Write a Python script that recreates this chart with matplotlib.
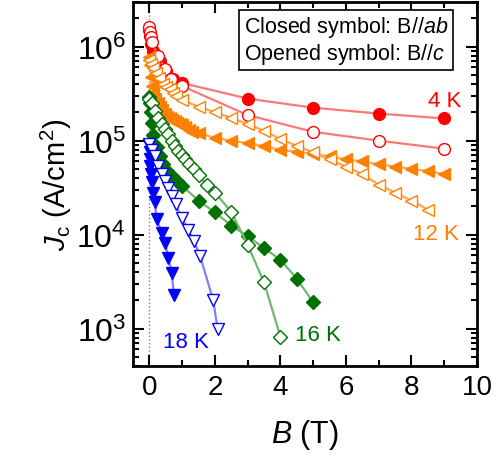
import matplotlib
matplotlib.use("Agg")
import matplotlib.pyplot as plt

plt.rcParams['font.family'] = ['Liberation Sans', 'DejaVu Sans']
plt.rcParams['mathtext.fontset'] = 'custom'
plt.rcParams['mathtext.rm'] = 'Liberation Sans'
plt.rcParams['mathtext.it'] = 'Liberation Sans:italic'

# 4 K
b4_ab = [0.0, 0.03, 0.06, 0.1, 0.2, 0.32, 0.52, 0.72, 1.0, 3.0, 5.0, 7.0, 9.0]
j4_ab = [1.5e6, 1.3e6, 1.07e6, 9.0e5, 7.8e5, 7.1e5, 5.5e5, 4.5e5, 4.1e5, 2.8e5, 2.24e5, 1.94e5, 1.72e5]
b4_c = [0.0, 0.02, 0.04, 0.07, 0.27, 0.47, 0.67, 1.0, 3.0, 5.0, 7.0, 9.0]
j4_c = [1.6e6, 1.42e6, 1.26e6, 1.11e6, 8.0e5, 5.8e5, 4.5e5, 3.8e5, 1.87e5, 1.24e5, 1.0e5, 8.2e4]

# 12 K
b12_ab = [0, 0.02, 0.05, 0.08, 0.12, 0.17, 0.25, 0.32, 0.4, 0.47, 0.55, 0.62, 0.7, 0.77,
          0.85, 0.93, 1.0, 1.08, 1.2, 1.3, 1.5, 2.0, 2.5, 3.0, 3.5, 4.0, 4.5, 5.0, 5.5,
          6.0, 6.5, 7.0, 7.5, 8.0, 8.5, 9.0]
j12_ab = [7.7e5, 6.3e5, 4.8e5, 3.8e5, 3.2e5, 2.8e5, 2.5e5, 2.3e5, 2.1e5, 1.9e5, 1.8e5,
          1.72e5, 1.65e5, 1.6e5, 1.55e5, 1.5e5, 1.45e5, 1.38e5, 1.3e5, 1.25e5, 1.2e5,
          1.07e5, 1.0e5, 9.4e4, 8.7e4, 8.0e4, 7.6e4, 7.2e4, 6.8e4, 6.3e4, 6.0e4, 5.6e4,
          5.3e4, 5.0e4, 4.75e4, 4.4e4]
b12_c = [0, 0.05, 0.1, 0.2, 0.3, 0.42, 0.52, 0.62, 0.72, 0.82, 1.0, 1.5, 2.0, 2.5, 3.0,
         3.5, 4.0, 4.5, 5.0, 5.5, 6.0, 6.5, 7.0, 7.5, 8.0, 8.5]
j12_c = [7.2e5, 6.5e5, 5.9e5, 5.3e5, 4.6e5, 4.0e5, 3.75e5, 3.5e5, 3.25e5, 3.0e5, 2.7e5,
         2.3e5, 2.0e5, 1.75e5, 1.5e5, 1.27e5, 1.04e5, 8.8e4, 7.5e4, 6.3e4, 5.3e4, 4.4e4,
         3.4e4, 2.8e4, 2.3e4, 1.85e4]

# 16 K
b16_ab = [0, 0.02, 0.04, 0.07, 0.12, 0.22, 0.33, 0.43, 0.55, 0.68, 0.83, 1.0, 1.5, 2.0,
          2.5, 3.0, 3.5, 4.0, 4.5, 5.0]
j16_ab = [2.9e5, 2.5e5, 2.0e5, 1.55e5, 1.15e5, 8.5e4, 6.9e4, 5.6e4, 4.8e4, 4.2e4, 3.7e4,
          3.3e4, 2.3e4, 1.72e4, 1.25e4, 9.6e3, 7.2e3, 5.4e3, 3.4e3, 1.9e3]
b16_c = [0.0, 0.07, 0.17, 0.27, 0.38, 0.48, 0.58, 0.68, 0.78, 0.88, 1.0, 1.1, 1.2, 1.35,
         1.5, 1.75, 2.0, 2.5, 3.0, 3.5, 4.0]
j16_c = [2.8e5, 2.5e5, 2.07e5, 1.76e5, 1.5e5, 1.32e5, 1.17e5, 9.9e4, 8.8e4, 7.8e4, 7.0e4,
         6.3e4, 5.6e4, 5.0e4, 4.3e4, 3.4e4, 2.8e4, 1.75e4, 7.8e3, 3.1e3, 8.2e2]

# 18 K
b18_ab = [0, 0.01, 0.02, 0.03, 0.05, 0.07, 0.12, 0.17, 0.22, 0.38, 0.48, 0.58, 0.68, 0.75]
j18_ab = [9.0e4, 7.5e4, 6.3e4, 5.4e4, 4.4e4, 3.6e4, 2.8e4, 2.2e4, 1.45e4, 1.05e4, 8.2e3,
          5.6e3, 3.9e3, 2.3e3]
b18_c = [0, 0.08, 0.17, 0.27, 0.38, 0.48, 0.58, 0.68, 0.8, 0.99, 1.19, 1.36, 1.55, 1.95, 2.08]
j18_c = [9.1e4, 8.0e4, 6.9e4, 5.4e4, 4.4e4, 3.7e4, 3.1e4, 2.6e4, 2.1e4, 1.5e4, 1.13e4,
         8.5e3, 5.9e3, 2.0e3, 1.0e3]

fig = plt.figure(figsize=(5, 4.64), dpi=100)
ax = fig.add_axes([0.266, 0.209, 0.688, 0.785])

ax.axvline(0, color='gray', ls=':', lw=1, zorder=0)

def curve(b, j, col, lcol, mk, ms, filled):
    fc = col if filled else 'white'
    ax.plot(b, j, '-', color=lcol, lw=1.6, marker=mk, ms=ms, mfc=fc, mec=col, mew=1.0)

curve(b4_ab, j4_ab, '#ff0000', '#ff7878', 'o', 8.5, True)
curve(b4_c, j4_c, '#ff0000', '#ff7878', 'o', 8.5, False)
curve(b12_ab, j12_ab, '#ff8000', '#ffa850', '<', 9, True)
curve(b12_c, j12_c, '#ff8000', '#ffa850', '<', 9, False)
curve(b16_ab, j16_ab, '#007000', '#70b870', 'D', 7, True)
curve(b16_c, j16_c, '#007000', '#70b870', 'D', 7, False)
curve(b18_ab, j18_ab, '#0000ff', '#8080ff', 'v', 9, True)
curve(b18_c, j18_c, '#0000ff', '#8080ff', 'v', 9, False)

ax.text(9.0, 2.7e5, '4 K', color='#ff0000', fontsize=16, ha='center', va='center')
ax.text(8.76, 1.03e4, '12 K', color='#ff8000', fontsize=16, ha='center', va='center')
ax.text(5.15, 8.6e2, '16 K', color='#007000', fontsize=16, ha='center', va='center')
ax.text(1.12, 7.25e2, '18 K', color='#0000ff', fontsize=16, ha='center', va='center')

ax.text(2.88, 1.17e6, 'Closed symbol: B//$ab$\nOpened symbol: B//$c$', fontsize=15.5,
        ha='left', va='center', linespacing=1.1,
        bbox=dict(boxstyle='square,pad=0.2', fc='white', ec='black', lw=1.2))

ax.set_yscale('log')
ax.set_xlim(-0.5, 10)
ax.set_ylim(400, 3e6)
ax.set_xticks([0, 2, 4, 6, 8, 10])
ax.set_xticks(range(0, 11), minor=True)
ax.tick_params(which='both', direction='in', top=True, right=True, width=1.5)
ax.tick_params(which='major', length=8, pad=6)
ax.tick_params(axis='x', which='major', labelsize=20)
ax.tick_params(axis='y', which='major', labelsize=23, pad=5)
ax.tick_params(which='minor', length=4)
for s in ax.spines.values():
    s.set_linewidth(2)

ax.set_xlabel('$B$ (T)', fontsize=22, labelpad=12)
ax.set_ylabel('$J_\\mathrm{c}$ (A/cm$^2$)', fontsize=21, labelpad=2)

fig.savefig('out.png', dpi=100)
